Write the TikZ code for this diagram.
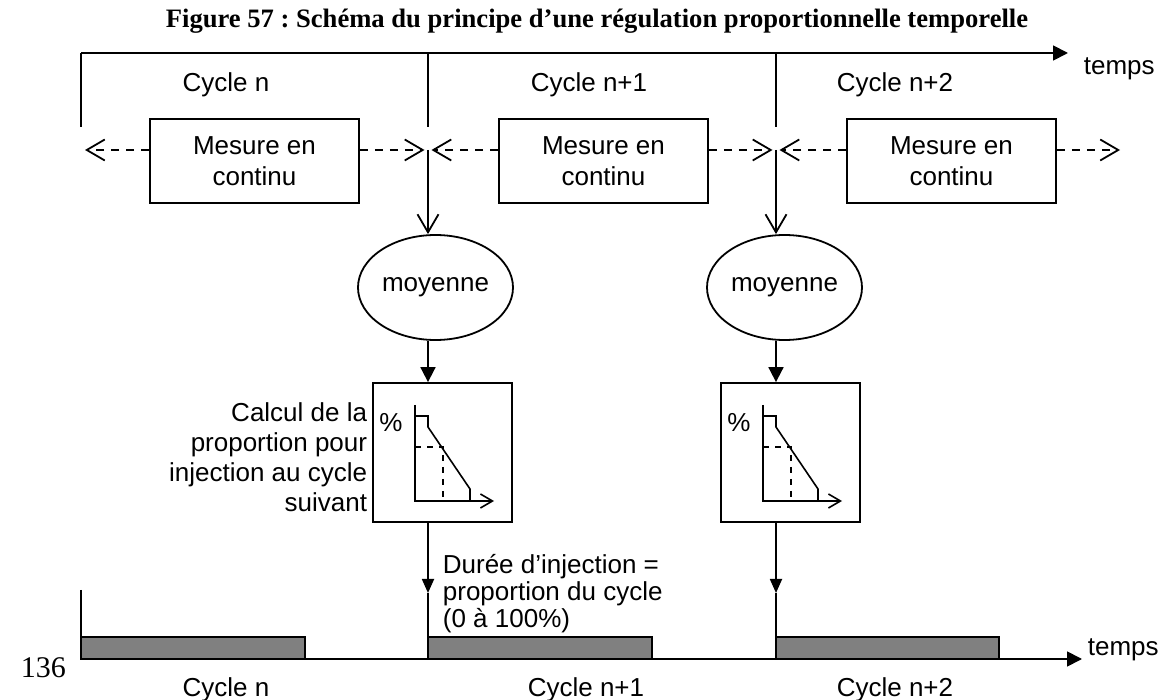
\documentclass[tikz,border=0pt]{standalone}
\usepackage{fontspec}
\setmainfont{Liberation Sans}
\newfontfamily\titlefont{Liberation Serif}
\usetikzlibrary{arrows.meta,shapes.geometric}
\frenchspacing

\begin{document}
\begin{tikzpicture}[x=0.5pt,y=-0.5pt,
  point/.style={coordinate},
  every node/.style={font=\fontsize{13}{15}\selectfont, inner sep=0pt},
  mesure/.style={draw, rectangle, minimum width=104.5pt, minimum height=42pt, align=center, font=\fontsize{13}{15.5}\selectfont},
  moy/.style={draw, ellipse, minimum width=77.5pt, minimum height=52.5pt},
  calc/.style={draw, rectangle, minimum width=69.5pt, minimum height=69.5pt},
  barre/.style={draw, line width=0.6pt, fill=black!50},
  fleche/.style={-{Triangle[length=7.5pt,width=7.5pt]}},
  petite/.style={-{Triangle[length=7pt,width=6pt]}},
  pointe/.style={-{Straight Barb[length=9pt,width=10.5pt]}},
  pointille/.style={dash pattern=on 4pt off 3.5pt, -{Straight Barb[length=9pt,width=10.5pt]}},
  every path/.style={line width=0.9pt}]
\useasboundingbox (0,0) rectangle (1164,700);

% titre
\node[anchor=base, font={\titlefont\bfseries\fontsize{13.3}{16}\selectfont}] (titre) at (597,28)
  {Figure 57 : Schéma du principe d’une régulation proportionnelle temporelle};

% axe du haut
\node[point] (a0) at (81,53) {};
\node[point] (a1) at (1068,53) {};
\node[point] (t0) at (81,127) {};
\node[point] (h1) at (428,53) {};
\node[point] (h1b) at (428,127) {};
\node[point] (h2) at (776,53) {};
\node[point] (h2b) at (776,127) {};
\draw (t0) -- (a0);
\draw[fleche] (a0) -- (a1);
\draw (h1) -- (h1b);
\draw (h2) -- (h2b);
\node[anchor=base west] (tps1) at (1083,75) {temps};
\node[anchor=base] (cyc0) at (226,92) {Cycle n};
\node[anchor=base] (cyc1) at (589,92) {Cycle n+1};
\node[anchor=base] (cyc2) at (895,92) {Cycle n+2};

% mesures
\node[mesure] (m1) at (254.5,161) {Mesure en\\continu};
\node[mesure] (m2) at (603.5,161) {Mesure en\\continu};
\node[mesure] (m3) at (951.5,161) {Mesure en\\continu};
\node[point] (j1) at (428,150) {};
\node[point] (j2) at (776,150) {};
\node[point] (g0) at (85,150) {};
\node[point] (g1) at (424.5,150) {};
\node[point] (d1) at (431.5,150) {};
\node[point] (g2) at (772.5,150) {};
\node[point] (d2) at (779.5,150) {};
\node[point] (g3) at (1120,150) {};
\draw[pointille] (m1.west |- j1) -- (g0);
\draw[pointille] (m1.east |- j1) -- (g1);
\draw[pointille] (m2.west |- j1) -- (d1);
\draw[pointille] (m2.east |- j1) -- (g2);
\draw[pointille] (m3.west |- j1) -- (d2);
\draw[pointille] (m3.east |- j1) -- (g3);

% moyennes
\node[moy] (e1) at (435.5,287.5) {moyenne};
\node[moy] (e2) at (784.5,287.5) {moyenne};
\draw[pointe] (j1) -- (j1 |- e1.north);
\draw[pointe] (j2) -- (j2 |- e2.north);

% calcul
\node[calc] (c1) at (442.5,452.5) {};
\node[calc] (c2) at (790.5,452.5) {};
\draw[fleche] (j1 |- e1.south) -- (j1 |- c1.north);
\draw[fleche] (j2 |- e2.south) -- (j2 |- c2.north);
\node[anchor=east, align=right] (txtc) at (368,457)
  {Calcul de la\\proportion pour\\injection au cycle\\suivant};
\begin{scope}[shift={(c1)}, every path/.style={line width=0.8pt}]
  \node (pc1) at (-51.5,-29.5) {\%};
  \draw[-{Straight Barb[length=6pt,width=7pt]}] (-27.5,-47.5) -- (-27.5,48.5) -- (51.5,48.5);
  \draw (-27.5,-36.5) -- (-14.5,-36.5) -- (-14.5,-25.5) -- (27.5,36.5) -- (27.5,48.5);
  \draw[dash pattern=on 3pt off 3pt] (-27.5,-5.5) -- (0.5,-5.5) -- (0.5,48.5);
\end{scope}
\begin{scope}[shift={(c2)}, every path/.style={line width=0.8pt}]
  \node (pc2) at (-51.5,-29.5) {\%};
  \draw[-{Straight Barb[length=6pt,width=7pt]}] (-27.5,-47.5) -- (-27.5,48.5) -- (51.5,48.5);
  \draw (-27.5,-36.5) -- (-14.5,-36.5) -- (-14.5,-25.5) -- (27.5,36.5) -- (27.5,48.5);
  \draw[dash pattern=on 3pt off 3pt] (-27.5,-5.5) -- (0.5,-5.5) -- (0.5,48.5);
\end{scope}

% injection
\node[point] (f1) at (428,593) {};
\node[point] (f2) at (776,593) {};
\node[point] (b1) at (428,659) {};
\node[point] (b2) at (776,659) {};
\draw[petite] (j1 |- c1.south) -- (f1);
\draw[petite] (j2 |- c2.south) -- (f2);
\draw (f1) -- (b1);
\draw (f2) -- (b2);
\node[anchor=west, align=left, font=\fontsize{13}{13.5}\selectfont] (txtd) at (442,594)
  {Durée d’injection =\\proportion du cycle\\(0 à 100\%)};

% axe du bas
\draw[barre] (81,637) rectangle (305,659);
\draw[barre] (428,637) rectangle (652,659);
\draw[barre] (776,637) rectangle (999,659);
\node[point] (v0) at (81,590) {};
\node[point] (b0) at (81,659) {};
\node[point] (b3) at (1082,659) {};
\draw (v0) -- (b0);
\draw[fleche] (b0) -- (b3);
\node[anchor=base west] (tps2) at (1087,655) {temps};
\node[anchor=base] (bas0) at (226,697) {Cycle n};
\node[anchor=base] (bas1) at (586,697) {Cycle n+1};
\node[anchor=base] (bas2) at (895,697) {Cycle n+2};
\node[anchor=base west, font={\titlefont\fontsize{15}{18}\selectfont}] (page) at (20,678) {136};
\end{tikzpicture}
\end{document}
